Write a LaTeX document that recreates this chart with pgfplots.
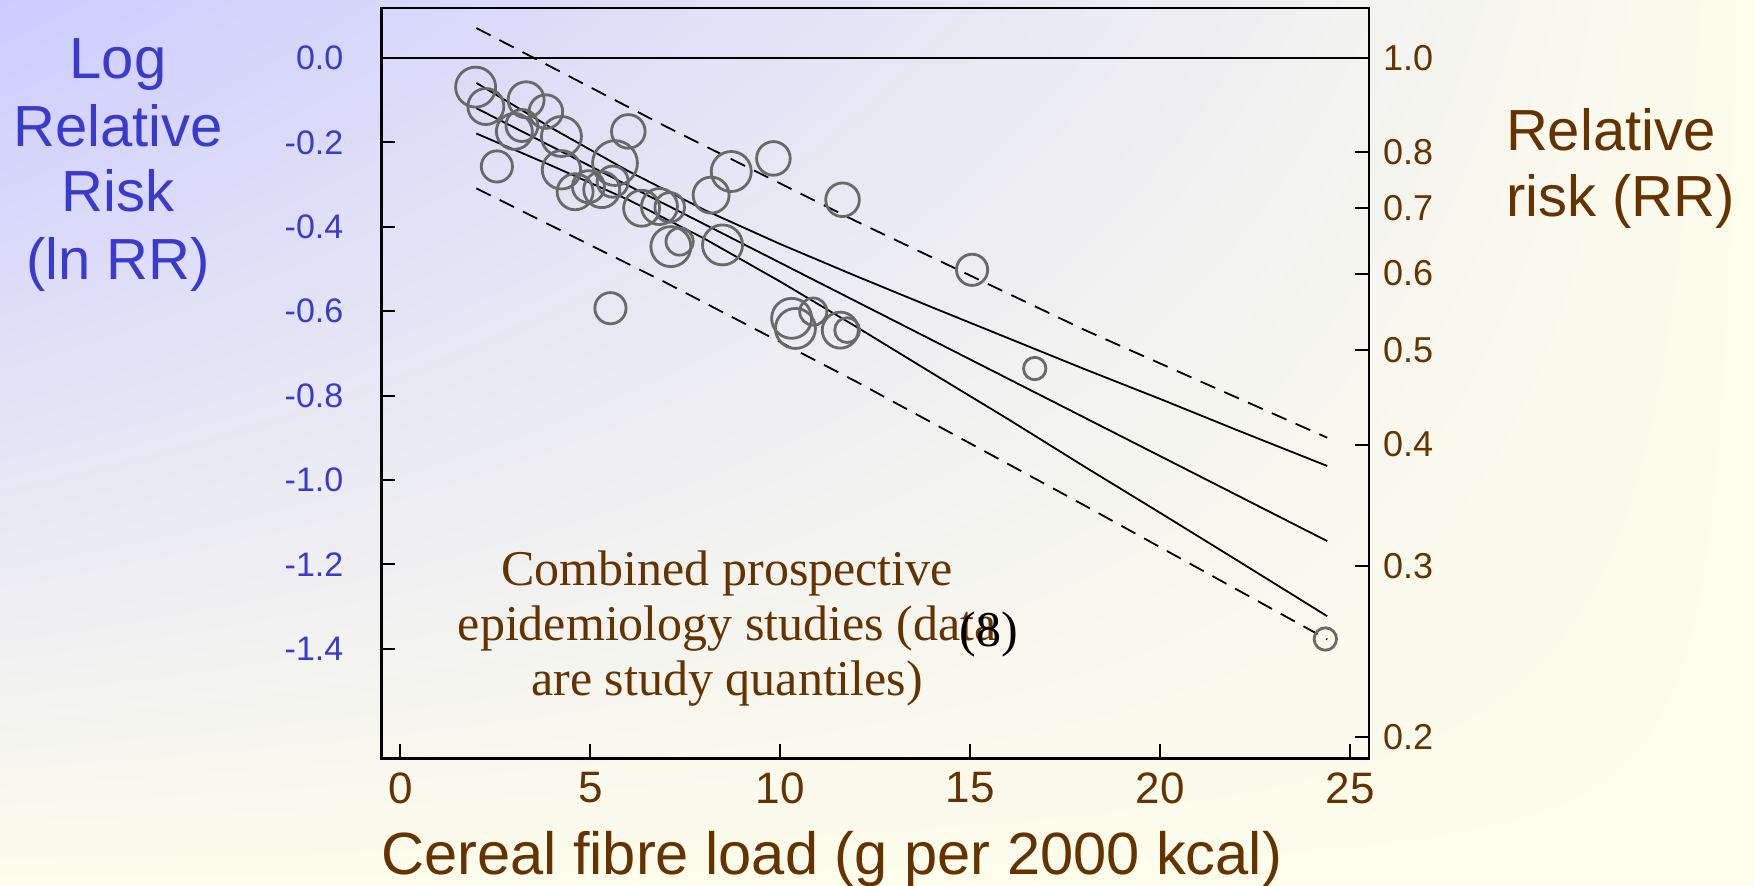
\documentclass[border=0pt]{standalone}
\usepackage{pgfplots}
\pgfplotsset{compat=1.18}
\usepackage{pgfplotstable}
\usetikzlibrary{shadings}
\usepackage{fontspec}
\setmainfont{Liberation Sans}
\newfontfamily\timesfont{Liberation Serif}

\definecolor{rrblue}{RGB}{58,58,204}
\definecolor{rrbrown}{RGB}{102,51,0}
\definecolor{bgblue}{RGB}{204,204,255}
\definecolor{bgcream}{RGB}{253,253,236}
\definecolor{circgray}{RGB}{105,105,105}

% study quantiles: fibre load, ln RR, circle radius (pt)
\pgfplotstableread{
x      y       r
1.98   -0.069  5.0
2.25   -0.115  4.5
3.31   -0.099  4.5
3.83   -0.127  4.2
3.00   -0.174  4.5
3.20   -0.160  4.0
4.24   -0.186  5.0
2.54   -0.257  3.9
6.00   -0.174  4.2
4.24   -0.265  4.8
4.60   -0.317  4.5
4.95   -0.305  4.0
5.30   -0.312  4.5
5.65   -0.249  5.6
5.59   -0.293  3.9
6.35   -0.356  4.5
6.82   -0.352  4.5
7.09   -0.354  3.7
8.18   -0.325  4.5
8.71   -0.269  5.0
9.82   -0.238  4.2
11.64  -0.336  4.2
7.12   -0.447  5.0
7.35   -0.435  3.4
8.48   -0.443  5.0
5.53   -0.593  3.9
10.30  -0.617  5.0
10.40  -0.641  5.0
10.87  -0.601  3.4
11.58  -0.645  4.5
11.76  -0.645  3.1
15.05  -0.502  3.9
16.70  -0.736  2.8
24.35  -1.377  2.8
}\studies

\begin{document}
\begin{tikzpicture}
\useasboundingbox (0pt,0pt) rectangle (438.5pt,221.5pt);
\shade[upper left=bgblue, upper right=bgcream, lower left=bgcream, lower right=bgcream]
  (0pt,0pt) rectangle (438.5pt,221.5pt);

\begin{axis}[
  at={(95.35pt,31.9pt)}, anchor=south west,
  scale only axis, width=246.9pt, height=187.65pt,
  xmin=-0.5, xmax=25.5, ymin=-1.66, ymax=0.119,
  axis line style={line width=0.6pt},
  tick style={black, line width=0.5pt},
  major tick length=3.5pt,
  tick pos=left, tick align=inside,
  xtick={0,5,10,15,20,25},
  xticklabels={0,5,10,15,20,25},
  ytick={0,-0.2,-0.4,-0.6,-0.8,-1.0,-1.2,-1.4},
  yticklabels={0.0,-0.2,-0.4,-0.6,-0.8,-1.0,-1.2,-1.4},
  xticklabel style={font=\fontsize{11}{11}\selectfont, text=rrbrown},
  yticklabel style={font=\fontsize{8.5}{8.5}\selectfont, text=rrblue, anchor=east, xshift=-6pt},
]
  % reference line RR = 1
  \addplot[black, line width=0.5pt] coordinates {(-0.5,0) (25.5,0)};

  % prediction band
  \addplot[black, line width=0.45pt, dash pattern=on 4pt off 2.5pt] coordinates {
    (2,0.071) (7,-0.163) (12,-0.387) (18,-0.644) (24.4,-0.900)
  };
  \addplot[black, line width=0.45pt, dash pattern=on 4pt off 2.5pt] coordinates {
    (2,-0.309) (7,-0.533) (12,-0.767) (18,-1.060) (24.4,-1.378)
  };

  % fitted line and confidence band
  \addplot[black, line width=0.45pt] coordinates {(2,-0.119) (24.4,-1.145)};
  \addplot[black, line width=0.45pt] coordinates {
    (2,-0.059) (4,-0.167) (6,-0.268) (8,-0.360) (10,-0.441) (12,-0.517)
    (14,-0.591) (16,-0.664) (18,-0.737) (20,-0.808) (22,-0.881) (24.4,-0.967)
  };
  \addplot[black, line width=0.45pt] coordinates {
    (2,-0.179) (4,-0.256) (6,-0.336) (8,-0.428) (10,-0.530) (12,-0.637)
    (14,-0.747) (16,-0.856) (18,-0.968) (20,-1.078) (22,-1.189) (24.4,-1.323)
  };

  % studies
  \addplot[scatter, only marks, mark=o, line width=0.7pt,
    scatter/use mapped color={draw=circgray},
    visualization depends on={\thisrow{r}\as\rr},
    scatter/@pre marker code/.append style={/tikz/mark size=\rr}]
    table[x=x, y=y] {\studies};
\end{axis}

% right axis: relative risk on log scale
\begin{axis}[
  at={(95.35pt,31.9pt)}, anchor=south west,
  scale only axis, width=246.9pt, height=187.65pt,
  xmin=-0.5, xmax=25.5, ymin=-1.66, ymax=0.119,
  axis x line=none, axis y line*=right,
  axis line style={line width=0.6pt},
  tick style={black, line width=0.5pt},
  major tick length=3.5pt, tick align=inside,
  ytick={0,-0.22314,-0.35667,-0.51083,-0.69315,-0.91629,-1.20397,-1.60944},
  yticklabels={1.0,0.8,0.7,0.6,0.5,0.4,0.3,0.2},
  yticklabel style={font=\fontsize{9}{9}\selectfont, text=rrbrown},
]
\end{axis}

% axis titles
\begin{scope}[font=\fontsize{14.5}{14.5}\selectfont, text=rrblue]
  \node[anchor=base] at (29.5pt,201.75pt) {Log};
  \node[anchor=base] at (29.5pt,184.75pt) {Relative};
  \node[anchor=base] at (29.5pt,168.5pt) {Risk};
  \node[anchor=base] at (29.5pt,151.6pt) {(ln RR)};
\end{scope}
\begin{scope}[font=\fontsize{14.5}{14.5}\selectfont, text=rrbrown]
  \node[anchor=base west, inner sep=0pt] at (376.3pt,183.9pt) {Relative};
  \node[anchor=base west, inner sep=0pt] at (376.3pt,167.3pt) {risk (RR)};
\end{scope}
\node[anchor=base, font=\fontsize{14.9}{14.9}\selectfont, text=rrbrown]
  at (207.9pt,2.75pt) {Cereal fibre load (g per 2000 kcal)};

% note
\begin{scope}[font=\timesfont\fontsize{12.5}{12.5}\selectfont, text=rrbrown]
  \node[anchor=base] at (181.8pt,75.0pt) {Combined prospective};
  \node[anchor=base] at (181.8pt,61.25pt) {epidemiology studies (data};
  \node[anchor=base] at (181.8pt,47.55pt) {are study quantiles)};
\end{scope}
\node[anchor=base, font=\timesfont\fontsize{12.5}{12.5}\selectfont, text=black]
  at (247.2pt,59.9pt) {(8)};
\end{tikzpicture}
\end{document}
